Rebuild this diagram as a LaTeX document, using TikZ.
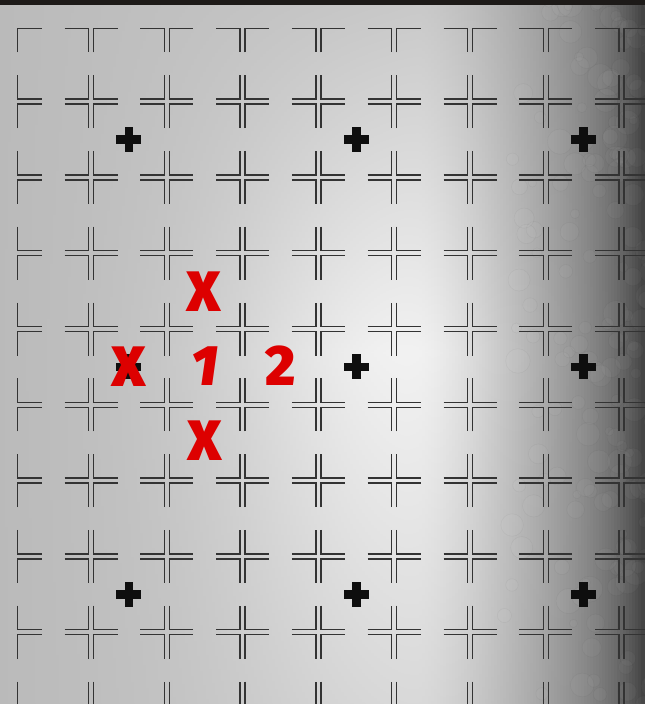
\documentclass[tikz,border=0pt]{standalone}
\usepackage{fontspec}
\newfontfamily\markfont{Fira Sans Black}[ItalicFont={Fira Sans Black Italic}]
\definecolor{linecol}{HTML}{333333}
\definecolor{pluscol}{HTML}{0E0E0E}
\definecolor{markred}{RGB}{221,0,0}
\definecolor{barcol}{HTML}{1D1A18}
\tikzset{
  tileline/.style={draw=linecol, line width=1.4pt, line cap=butt, line join=miter},
  redmark/.style={text=markred, inner sep=0pt, font=\markfont\fontsize{57}{57}\selectfont},
}
\begin{document}
\begin{tikzpicture}[x=1pt,y=-1pt]
\useasboundingbox (0,0) rectangle (645,704);
\begin{scope}
\clip (0,0) rectangle (645,704);
% background: vertical stripes with top / middle / bottom grey
\foreach \i in {0,...,214}{
  \pgfmathsetmacro\xc{3*\i+1.5}
  \pgfmathsetmacro\myt{max(0.001,(\xc-420)/225)}
  \pgfmathsetmacro\base{\xc<=420 ? 186+14*\xc/420 : 200-100*\myt^1.5-35*\myt^8}
  \pgfmathsetmacro\glw{\xc<=400 ? 42*exp(0-((\xc-400)/180)^2) : 42*exp(0-((\xc-400)/130)^2)}
  \pgfmathsetmacro\ct{min(1,\base/255)}
  \pgfmathsetmacro\cm{min(1,(\base+\glw)/255)}
  \pgfmathsetmacro\cb{min(1,(\base+0.4*\glw)/255)}
  \definecolor{bgt}{gray}{\ct}
  \definecolor{bgm}{gray}{\cm}
  \definecolor{bgb}{gray}{\cb}
  \shade[top color=bgt, bottom color=bgb, middle color=bgm] (3*\i-0.4,0) rectangle (3*\i+3.4,704);
}
% faint bubble texture on the right
\pgfmathsetseed{11}
\foreach \k in {1,...,170}{
  \pgfmathsetmacro\bx{500+155*sqrt(rnd)}
  \pgfmathsetmacro\by{704*rnd}
  \pgfmathsetmacro\br{4+9*rnd}
  \draw[draw=black, draw opacity=0.035, fill=white, fill opacity=0.03, line width=0.6pt] (\bx,\by) circle (\br);
}
% top bar
\fill[barcol] (0,0) rectangle (645,4.5);
% tile corner marks
\foreach \i in {0,...,8}{
  \foreach \j in {0,...,8}{
    \pgfmathsetmacro\L{17.7+75.8*\i}
    \pgfmathsetmacro\T{28.3+75.8*\j}
    \pgfmathsetmacro\R{\L+70.8}
    \pgfmathsetmacro\B{\T+70.8}
    \draw[tileline] (\L,\T+24) -- (\L,\T) -- (\L+24,\T);
    \draw[tileline] (\R-24,\T) -- (\R,\T) -- (\R,\T+24);
    \draw[tileline] (\L,\B-24) -- (\L,\B) -- (\L+24,\B);
    \draw[tileline] (\R-24,\B) -- (\R,\B) -- (\R,\B-24);
  }
}
% black plus marks at tile centres
\foreach \i in {1,4,7}{
  \foreach \j in {1,4,7}{
    \pgfmathsetmacro\cx{17.7+75.8*\i+35.4}
    \pgfmathsetmacro\cy{28.3+75.8*\j+35.4}
    \fill[pluscol] (\cx-12.5,\cy-4.3) rectangle (\cx+12.5,\cy+4.3);
    \fill[pluscol] (\cx-4.3,\cy-12.5) rectangle (\cx+4.3,\cy+12.5);
  }
}
\end{scope}
% red marks
\node[redmark] (xtop) at (204,292) {X};
\node[redmark] (xleft) at (129,367) {X};
\node[redmark] (xbottom) at (205,441) {X};
\node[redmark] (one) at (205,366) {\itshape 1};
\node[redmark] (two) at (281,366) {2};
\end{tikzpicture}
\end{document}
